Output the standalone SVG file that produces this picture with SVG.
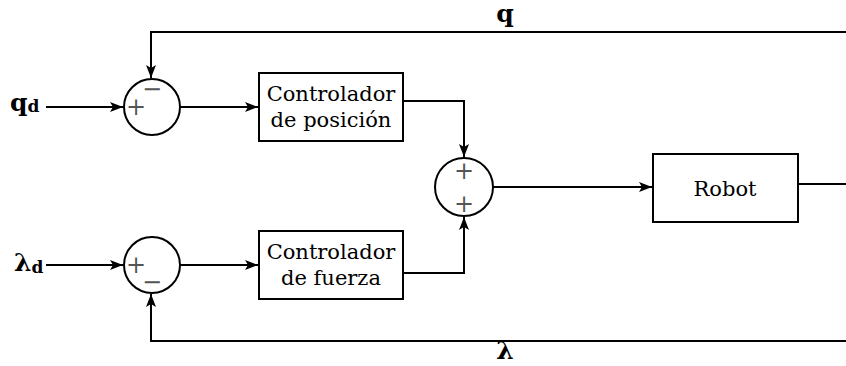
<svg xmlns="http://www.w3.org/2000/svg" width="846" height="366" viewBox="0 0 846 366">
<defs>
<marker id="ah" viewBox="0 0 13 10" refX="13" refY="5" markerWidth="13" markerHeight="10" markerUnits="userSpaceOnUse" orient="auto">
<path d="M0,0 L13,5 L0,10 L3,5 Z" fill="#000"/>
</marker>
</defs>
<style>
.ln{fill:none;stroke:#000;stroke-width:2}
.bx{fill:#fff;stroke:#000;stroke-width:2}
.t{font-family:"DejaVu Serif","Liberation Serif",serif;font-size:21px;fill:#000;text-anchor:middle}
.s{font-family:"DejaVu Serif","Liberation Serif",serif;font-size:24px;fill:#555;text-anchor:middle}
.b{font-family:"DejaVu Serif","Liberation Serif",serif;font-weight:bold;font-size:25px;fill:#000}
</style>
<g id="connectors">
<path class="ln" d="M46,107 L123,107" marker-end="url(#ah)"/>
<path class="ln" d="M180,107 L258,107" marker-end="url(#ah)"/>
<path class="ln" d="M846,32 L151,32 L151,78" marker-end="url(#ah)"/>
<path class="ln" d="M46,265 L123,265" marker-end="url(#ah)"/>
<path class="ln" d="M180,265 L258,265" marker-end="url(#ah)"/>
<path class="ln" d="M846,341 L151,341 L151,294" marker-end="url(#ah)"/>
<path class="ln" d="M403,101 L464,101 L464,157" marker-end="url(#ah)"/>
<path class="ln" d="M403,273 L464,273 L464,217" marker-end="url(#ah)"/>
<path class="ln" d="M493,187 L652,187" marker-end="url(#ah)"/>
<path class="ln" d="M798,184 L846,184"/>
</g>
<g id="label-qd"><text class="b" x="10" y="111">q<tspan font-size="17" dy="1">d</tspan></text></g>
<g id="label-ld"><text class="b" x="14" y="271">λ<tspan font-size="17" dy="2">d</tspan></text></g>
<g id="label-q"><text class="b" x="505" y="22" text-anchor="middle" font-size="21">q</text></g>
<g id="label-l"><text class="b" x="505" y="359" text-anchor="middle" font-size="20">λ</text></g>
<g id="sum1">
<circle class="bx" cx="152" cy="107" r="28"/>
<text class="s" x="136" y="115">+</text>
<text class="s" x="152" y="97">−</text>
</g>
<g id="sum2">
<circle class="bx" cx="152" cy="265" r="28"/>
<text class="s" x="136" y="273">+</text>
<text class="s" x="152" y="290">−</text>
</g>
<g id="sum3">
<circle class="bx" cx="464" cy="187" r="29"/>
<text class="s" x="464" y="179">+</text>
<text class="s" x="464" y="212">+</text>
</g>
<g id="ctrl-pos">
<rect class="bx" x="259" y="73" width="144" height="68"/>
<text class="t" x="331" y="101">Controlador</text>
<text class="t" x="331" y="127">de posición</text>
</g>
<g id="ctrl-fuerza">
<rect class="bx" x="259" y="231" width="144" height="68"/>
<text class="t" x="331" y="259">Controlador</text>
<text class="t" x="331" y="285">de fuerza</text>
</g>
<g id="robot">
<rect class="bx" x="653" y="154" width="145" height="68"/>
<text class="t" x="725" y="196">Robot</text>
</g>
</svg>
